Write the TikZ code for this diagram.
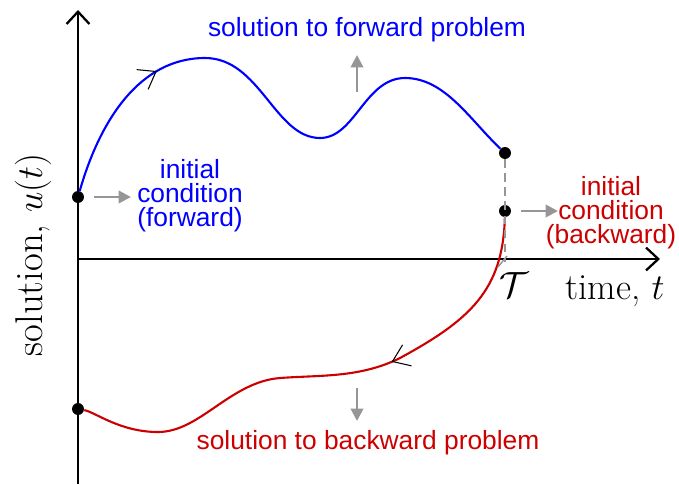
\documentclass[tikz,border=0pt]{standalone}
\usepackage{amsmath}
\usepackage{fontspec}
\setsansfont{Liberation Sans}
\usetikzlibrary{arrows.meta, decorations.markings}
\definecolor{fwdblue}{RGB}{0,0,255}
\definecolor{bwdred}{RGB}{204,0,0}
\definecolor{hintgray}{RGB}{150,150,150}

\begin{document}
\begin{tikzpicture}[x=0.02cm, y=-0.02cm,
    dot/.style={circle, fill=black, inner sep=0pt, minimum size=6.8pt},
    axis/.style={line width=1.3pt, -{Straight Barb[length=7pt, width=13pt]}},
    curve/.style={line width=1.2pt},
    dir/.style={decoration={markings, mark=at position #1 with {\arrow[black, line width=0.6pt]{Straight Barb[length=9pt, width=13pt]}}}, postaction={decorate}},
    hint/.style={hintgray, line width=1.5pt, -{Triangle[length=7pt, width=7pt]}},
    lbl/.style={font=\sffamily\fontsize{15}{13.6}\selectfont, align=center},
    big/.style={font=\fontsize{21}{25}\selectfont}]
    \useasboundingbox (0,0) rectangle (679,484);
    % axes
    \coordinate (orig) at (78,259);
    \coordinate (ytop) at (78,10);
    \coordinate (ybot) at (78,484);
    \coordinate (xtip) at (660,259);
    \draw[axis] (ybot) -- (ytop);
    \draw[axis] (orig) -- (xtip);
    \node[big, font=\fontsize{22}{26}\selectfont, rotate=90] (ylabel) at (33,255) {solution, $u(t)$};
    \node[big] (xlabel) at (615,291) {time, $t$};
    \node[big] (tlabel) at (514,285) {$\mathcal{T}$};

    % end points of the two solutions
    \node[dot] (fwdstart) at (78,197) {};
    \node[dot] (fwdend) at (505,153) {};
    \node[dot] (bwdstart) at (505,211) {};
    \node[dot] (bwdend) at (78,409) {};

    % forward solution
    \draw[fwdblue, curve, dir=0.255] (fwdstart) .. controls (100,120) and (140,58) .. (205,58)
        .. controls (260,58) and (275,138) .. (320,138)
        .. controls (355,138) and (365,78) .. (405,78)
        .. controls (445,78) and (470,120) .. (fwdend);
    % backward solution
    \draw[bwdred, curve, dir=0.375] (bwdstart) .. controls (503,290) and (470,320) .. (400,358)
        .. controls (360,378) and (320,375) .. (280,378)
        .. controls (230,382) and (200,432) .. (158,432)
        .. controls (120,432) and (95,412) .. (bwdend);

    % final time
    \coordinate (tfoot) at (505,262);
    \draw[hintgray, line width=1pt, dash pattern=on 5pt off 3pt] (fwdend) -- (tfoot);
    \draw[hintgray, line width=0.8pt] (498,267) -- (507,256);

    % labels
    \node[lbl, text=fwdblue] (fwdtitle) at (367,30) {solution to forward problem};
    \node[lbl, text=fwdblue] (fwdinit) at (190,196) {initial\\condition\\(forward)};
    \node[lbl, text=bwdred] (bwdinit) at (611,213) {initial\\condition\\(backward)};
    \node[lbl, text=bwdred] (bwdtitle) at (368,443) {solution to backward problem};

    % grey hints
    \coordinate (upfoot) at (357,92);
    \coordinate (downtop) at (357,388);
    \draw[hint] ([xshift=5.5pt]fwdstart.east) -- ++(37,0);
    \draw[hint] ([xshift=5.5pt]bwdstart.east) -- ++(37,0);
    \draw[hint] (upfoot) -- ++(0,-37);
    \draw[hint] (downtop) -- ++(0,33);
\end{tikzpicture}
\end{document}
